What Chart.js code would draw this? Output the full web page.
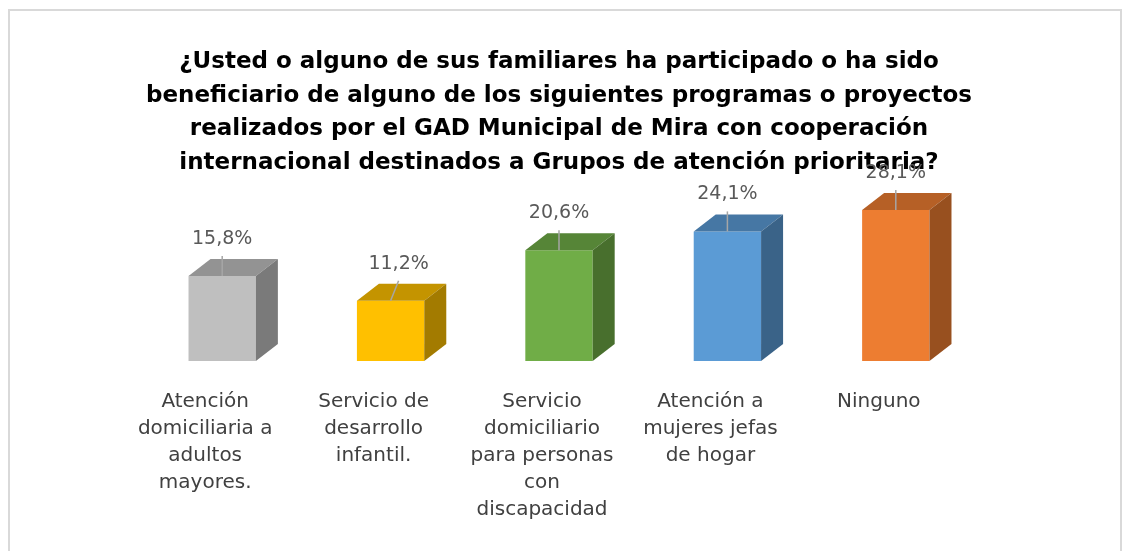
<!DOCTYPE html>
<html>
<head>
<meta charset="utf-8">
<script src="https://cdn.jsdelivr.net/npm/chart.js@4"></script>
<style>
  html, body { margin: 0; padding: 0; background: #fff; overflow: hidden; }
  #wrap { position: relative; width: 1123px; height: 551px; }
  #frame { position: absolute; left: 8px; top: 9px; width: 1110px; height: 600px; border: 2px solid #d9d9d9; }
  #c { position: absolute; left: 0; top: 0; }
</style>
</head>
<body>
<div id="wrap">
  <div id="frame"></div>
  <canvas id="c" width="1123" height="551"></canvas>
</div>
<script>
const titleLines = [
  "¿Usted o alguno de sus familiares ha participado o ha sido",
  "beneficiario de alguno de los siguientes programas o proyectos",
  "realizados por el GAD Municipal de Mira con cooperación",
  "internacional destinados a Grupos de atención prioritaria?"
];
const categories = [
  ["Atención", "domiciliaria a", "adultos", "mayores."],
  ["Servicio de", "desarrollo", "infantil."],
  ["Servicio", "domiciliario", "para personas", "con", "discapacidad"],
  ["Atención a", "mujeres jefas", "de hogar"],
  ["Ninguno"]
];
const values = [15.8, 11.2, 20.6, 24.1, 28.1];
const frontColors = ["#bfbfbf", "#ffc000", "#70ad47", "#5b9bd5", "#ed7d31"];

const FONT = "'DejaVu Sans', sans-serif";

function shade(hex, f) {
  const n = parseInt(hex.slice(1), 16);
  const r = Math.round(((n >> 16) & 255) * f);
  const g = Math.round(((n >> 8) & 255) * f);
  const b = Math.round((n & 255) * f);
  return `rgb(${r},${g},${b})`;
}

const box3d = {
  id: 'box3d',
  afterDatasetsDraw(chart, args, opts) {
    const ctx = chart.ctx;
    const meta = chart.getDatasetMeta(0);
    const dx = opts.dx, dy = opts.dy;
    ctx.save();
    meta.data.forEach((bar, i) => {
      const p = bar.getProps(['x', 'y', 'base', 'width'], true);
      const l = p.x - p.width / 2, r = p.x + p.width / 2, t = p.y, b = p.base;
      const col = frontColors[i];
      ctx.fillStyle = shade(col, 0.77);
      ctx.beginPath();
      ctx.moveTo(l, t); ctx.lineTo(l + dx, t - dy); ctx.lineTo(r + dx, t - dy); ctx.lineTo(r, t);
      ctx.closePath(); ctx.fill();
      ctx.fillStyle = shade(col, 0.64);
      ctx.beginPath();
      ctx.moveTo(r, t); ctx.lineTo(r + dx, t - dy); ctx.lineTo(r + dx, b - dy); ctx.lineTo(r, b);
      ctx.closePath(); ctx.fill();
    });
    ctx.font = `19px ${FONT}`;
    ctx.textAlign = 'center';
    ctx.textBaseline = 'middle';
    meta.data.forEach((bar, i) => {
      const p = bar.getProps(['x', 'y'], true);
      const sx = (opts.shiftX[i] || 0);
      ctx.strokeStyle = '#a6a6a6';
      ctx.lineWidth = 1.5;
      ctx.beginPath();
      ctx.moveTo(p.x, p.y);
      ctx.lineTo(p.x + sx, p.y - opts.lead);
      ctx.stroke();
      ctx.fillStyle = '#595959';
      const txt = values[i].toFixed(1).replace('.', ',') + '%';
      ctx.fillText(txt, p.x + sx, p.y - opts.labelGap);
    });
    ctx.restore();
  }
};

new Chart(document.getElementById('c'), {
  type: 'bar',
  data: {
    labels: categories,
    datasets: [{
      data: values,
      backgroundColor: frontColors,
      borderWidth: 0,
      barPercentage: 0.4,
      categoryPercentage: 1.0
    }]
  },
  options: {
    responsive: false,
    animation: false,
    devicePixelRatio: 1,
    layout: { padding: { left: 138, right: 143, top: 45, bottom: 9 } },
    plugins: {
      legend: { display: false },
      tooltip: { enabled: false },
      title: {
        display: true,
        text: titleLines,
        color: '#000000',
        font: { family: FONT, size: 23, weight: 'bold', lineHeight: 1.465 },
        padding: { top: 0, bottom: 0 }
      },
      box3d: { dx: 22, dy: 17, lead: 20, labelGap: 37, shiftX: [0, 8, 0, 0, 0] }
    },
    scales: {
      x: {
        grid: { display: false },
        border: { display: false },
        ticks: {
          color: '#404040',
          font: { family: FONT, size: 20, lineHeight: 1.35 },
          padding: 19,
          labelOffset: -17,
          maxRotation: 0,
          autoSkip: false
        }
      },
      y: {
        display: false,
        min: 0,
        max: 33.7
      }
    }
  },
  plugins: [box3d]
});
</script>
</body>
</html>
